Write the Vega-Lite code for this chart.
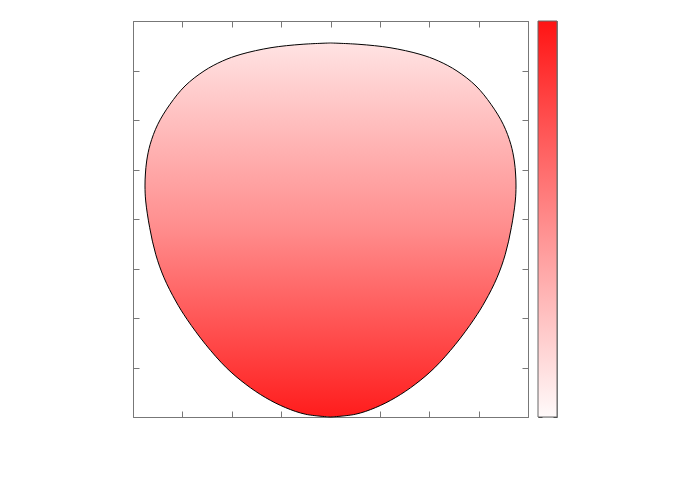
{
  "$schema": "https://vega.github.io/schema/vega-lite/v6.json",
  "background": "white",
  "padding": {"left": 132, "top": 20, "right": 5, "bottom": 5},
  "spacing": 8,
  "datasets": {
    "shape": [
      {"y": -4.0, "xl": 0.0, "xr": 0.0},
      {"y": -3.945, "xl": -0.502, "xr": 0.502},
      {"y": -3.812, "xl": -0.907, "xr": 0.907},
      {"y": -3.61, "xl": -1.312, "xr": 1.312},
      {"y": -3.339, "xl": -1.717, "xr": 1.717},
      {"y": -3.004, "xl": -2.11, "xr": 2.11},
      {"y": -2.531, "xl": -2.532, "xr": 2.532},
      {"y": -2.026, "xl": -2.906, "xr": 2.906},
      {"y": -1.657, "xl": -3.135, "xr": 3.135},
      {"y": -1.186, "xl": -3.372, "xr": 3.372},
      {"y": -0.713, "xl": -3.54, "xr": 3.54},
      {"y": -0.176, "xl": -3.662, "xr": 3.662},
      {"y": 0.364, "xl": -3.743, "xr": 3.743},
      {"y": 0.667, "xl": -3.757, "xr": 3.757},
      {"y": 0.909, "xl": -3.749, "xr": 3.749},
      {"y": 1.172, "xl": -3.723, "xr": 3.723},
      {"y": 1.509, "xl": -3.652, "xr": 3.652},
      {"y": 1.913, "xl": -3.498, "xr": 3.498},
      {"y": 2.317, "xl": -3.251, "xr": 3.251},
      {"y": 2.687, "xl": -2.947, "xr": 2.947},
      {"y": 2.99, "xl": -2.562, "xr": 2.562},
      {"y": 3.192, "xl": -2.187, "xr": 2.187},
      {"y": 3.327, "xl": -1.813, "xr": 1.813},
      {"y": 3.461, "xl": -1.205, "xr": 1.205},
      {"y": 3.529, "xl": -0.577, "xr": 0.577},
      {"y": 3.556, "xl": 0.0, "xr": 0.0}
    ],
    "cbar": [{"lo": 0, "hi": 6, "left": 0, "right": 1}]
  },
  "hconcat": [
    {
      "width": 395,
      "height": 396,
      "data": {"name": "shape"},
      "layer": [
        {
          "mark": {"type": "area", "orient": "horizontal", "interpolate": "catmull-rom", "opacity": 1,
            "fill": {"gradient": "linear", "x1": 0, "y1": 0, "x2": 0, "y2": 1,
              "stops": [
                {"offset": 0, "color": "#ffe3e3"},
                {"offset": 0.5, "color": "#ff8c8c"},
                {"offset": 1, "color": "#ff1c1c"}
              ]}},
          "encoding": {
            "y": {"field": "y", "type": "quantitative", "scale": {"domain": [-4, 4], "nice": false, "zero": false},
              "axis": {"orient": "left", "title": null, "labels": false, "grid": false, "values": [-4, -3, -2, -1, 0, 1, 2, 3, 4],
                "tickSize": -6, "tickColor": "#777777", "domainColor": "#777777"}},
            "x": {"field": "xl", "type": "quantitative", "scale": {"domain": [-4, 4], "nice": false, "zero": false},
              "axis": {"orient": "bottom", "title": null, "labels": false, "grid": false, "values": [-4, -3, -2, -1, 0, 1, 2, 3, 4],
                "tickSize": -6, "tickColor": "#777777", "domainColor": "#777777"}},
            "x2": {"field": "xr"}
          }
        },
        {
          "transform": [{"fold": ["xl", "xr"], "as": ["side", "xv"]}],
          "mark": {"type": "line", "interpolate": "catmull-rom", "color": "black", "strokeWidth": 1},
          "encoding": {
            "x": {"field": "xv", "type": "quantitative",
              "axis": {"orient": "top", "title": null, "labels": false, "grid": false, "values": [-4, -3, -2, -1, 0, 1, 2, 3, 4],
                "tickSize": -6, "tickColor": "#777777", "domainColor": "#777777"}},
            "y": {"field": "y", "type": "quantitative",
              "axis": {"orient": "right", "title": null, "labels": false, "grid": false, "values": [-4, -3, -2, -1, 0, 1, 2, 3, 4],
                "tickSize": -6, "tickColor": "#777777", "domainColor": "#777777"}},
            "detail": {"field": "side"},
            "order": {"field": "y", "type": "quantitative"}
          }
        }
      ],
      "resolve": {"axis": {"x": "independent", "y": "independent"}}
    },
    {
      "width": 19,
      "height": 396,
      "data": {"name": "cbar"},
      "layer": [
        {
          "mark": {"type": "rect", "opacity": 1, "stroke": "#666666", "strokeWidth": 1,
            "fill": {"gradient": "linear", "x1": 0, "y1": 0, "x2": 0, "y2": 1,
              "stops": [
                {"offset": 0, "color": "#ff1414"},
                {"offset": 0.5, "color": "#ff8a8a"},
                {"offset": 1, "color": "#fffafa"}
              ]}},
          "encoding": {
            "x": {"field": "left", "type": "quantitative", "scale": {"domain": [0, 1], "nice": false}, "axis": null},
            "x2": {"field": "right"},
            "y": {"field": "lo", "type": "quantitative", "scale": {"domain": [0, 6], "nice": false},
              "axis": {"orient": "left", "title": null, "labels": false, "grid": false, "values": [0, 1, 2, 3, 4, 5, 6],
                "tickSize": -4, "tickColor": "#333333", "domainColor": "#888888"}},
            "y2": {"field": "hi"}
          }
        },
        {
          "mark": {"type": "rect", "opacity": 0},
          "encoding": {
            "x": {"field": "left", "type": "quantitative", "axis": null},
            "x2": {"field": "right"},
            "y": {"field": "lo", "type": "quantitative",
              "axis": {"orient": "right", "title": null, "labels": false, "grid": false, "values": [0, 1, 2, 3, 4, 5, 6],
                "tickSize": -4, "tickColor": "#333333", "domainColor": "#888888"}},
            "y2": {"field": "hi"}
          }
        }
      ],
      "resolve": {"axis": {"y": "independent"}}
    }
  ]
}
